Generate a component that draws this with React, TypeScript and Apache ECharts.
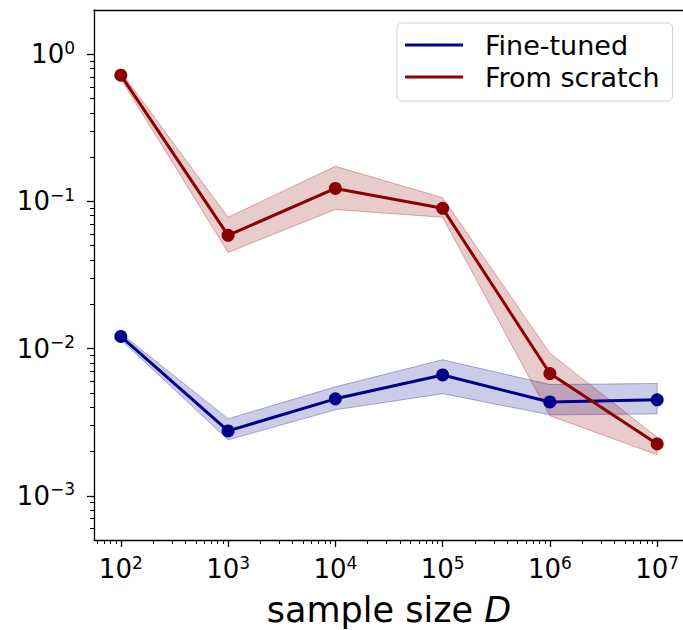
import React, { useEffect, useRef } from "react";
import * as echarts from "echarts";

// Sample sizes D (x) and test error statistics per training regime
const sampleSizes = [1e2, 1e3, 1e4, 1e5, 1e6, 1e7];

const fineTunedMean = [0.0121, 0.00276, 0.00456, 0.00662, 0.00434, 0.00449];
const fineTunedUpper = [0.0127, 0.00334, 0.0055, 0.0084, 0.0057, 0.0058];
const fineTunedLower = [0.0115, 0.0024, 0.00384, 0.00494, 0.00355, 0.0036];

const scratchMean = [0.72, 0.0588, 0.1225, 0.0897, 0.00677, 0.00225];
const scratchUpper = [0.76, 0.078, 0.173, 0.106, 0.0093, 0.0025];
const scratchLower = [0.68, 0.045, 0.088, 0.078, 0.0035, 0.0019];

// Axis ticks (decades and in-between minor ticks)
const xMajorTicks = [1e2, 1e3, 1e4, 1e5, 1e6, 1e7];
const xMinorTicks = [
  60, 70, 80, 90,
  200, 300, 400, 500, 600, 700, 800, 900,
  2e3, 3e3, 4e3, 5e3, 6e3, 7e3, 8e3, 9e3,
  2e4, 3e4, 4e4, 5e4, 6e4, 7e4, 8e4, 9e4,
  2e5, 3e5, 4e5, 5e5, 6e5, 7e5, 8e5, 9e5,
  2e6, 3e6, 4e6, 5e6, 6e6, 7e6, 8e6, 9e6,
];
const yMajorTicks = [1e-3, 1e-2, 1e-1, 1];
const yMinorTicks = [
  6e-4, 7e-4, 8e-4, 9e-4,
  2e-3, 3e-3, 4e-3, 5e-3, 6e-3, 7e-3, 8e-3, 9e-3,
  2e-2, 3e-2, 4e-2, 5e-2, 6e-2, 7e-2, 8e-2, 9e-2,
  0.2, 0.3, 0.4, 0.5, 0.6, 0.7, 0.8, 0.9,
];

const X_MIN = Math.pow(10, 1.75);
const X_MAX = Math.pow(10, 7.25);
const Y_MIN = Math.pow(10, -3.3);
const Y_MAX = Math.pow(10, 0.3);

const BLUE = "#00008b";
const RED = "#8b0000";
const FONT = "DejaVu Sans";

const powLabel = (v: number) => {
  const e = Math.round(Math.log10(v));
  const exp = e < 0 ? "\u2212" + Math.abs(e) : String(e);
  return `{b|10}{s|${exp}}`;
};

const powRich = {
  b: { fontSize: 26, lineHeight: 30, fontFamily: FONT, color: "#000" },
  s: { fontSize: 17, lineHeight: 17, fontFamily: FONT, color: "#000", verticalAlign: "top" },
};

const axisColor = "#000";

function bandSeries(upper: number[], lower: number[], rgb: string) {
  return {
    type: "custom",
    xAxisIndex: 0,
    yAxisIndex: 0,
    silent: true,
    z: 1,
    data: [[sampleSizes[0], upper[0]]],
    renderItem: (params: any, api: any) => {
      if (params.dataIndex !== 0) return null;
      const top = sampleSizes.map((x, i) => api.coord([x, upper[i]]));
      const bottom = sampleSizes.map((x, i) => api.coord([x, lower[i]])).reverse();
      return {
        type: "polygon",
        shape: { points: top.concat(bottom) },
        style: {
          fill: `rgba(${rgb},0.2)`,
          stroke: `rgba(${rgb},0.3)`,
          lineWidth: 1,
        },
      };
    },
  };
}

function lineSeries(name: string, mean: number[], color: string) {
  return {
    name,
    type: "line",
    xAxisIndex: 0,
    yAxisIndex: 0,
    z: 3,
    data: sampleSizes.map((x, i) => [x, mean[i]]),
    symbol: "circle",
    symbolSize: 13,
    showSymbol: true,
    lineStyle: { color, width: 3 },
    itemStyle: { color },
    emphasis: { disabled: true },
  };
}

export default function App() {
  const ref = useRef<HTMLDivElement>(null);

  useEffect(() => {
    if (!ref.current) return;
    const chart = echarts.init(ref.current, null, { renderer: "svg" });
    chart.setOption({
      animation: false,
      backgroundColor: "#fff",
      textStyle: { fontFamily: FONT },
      grid: {
        left: 94,
        top: 10,
        width: 590,
        height: 530,
        containLabel: false,
        outerBoundsMode: "none",
      },
      legend: {
        orient: "vertical",
        left: 397,
        top: 23,
        padding: [7, 13, 9, 8],
        itemWidth: 58,
        itemHeight: 3,
        itemGap: 2,
        backgroundColor: "rgba(255,255,255,0.8)",
        borderColor: "#d0d0d0",
        borderWidth: 1,
        borderRadius: 5,
        selectedMode: false,
        textStyle: {
          fontFamily: FONT,
          fontSize: 27,
          lineHeight: 30,
          color: "#000",
          padding: [0, 0, 0, 17],
        },
        data: [
          { name: "Fine-tuned", icon: "rect", itemStyle: { color: BLUE } },
          { name: "From scratch", icon: "rect", itemStyle: { color: RED } },
        ],
      },
      xAxis: [
        {
          type: "log",
          min: X_MIN,
          max: X_MAX,
          position: "bottom",
          axisLine: { show: true, onZero: false, lineStyle: { color: axisColor, width: 1.3 } },
          axisTick: {
            show: true,
            length: 7,
            customValues: xMajorTicks,
            lineStyle: { color: axisColor, width: 1.3 },
          },
          axisLabel: {
            customValues: xMajorTicks,
            formatter: powLabel,
            rich: powRich,
            margin: 14,
          },
          splitLine: { show: false },
          minorTick: { show: false },
          name: "{n|sample size }{i|D}",
          nameLocation: "middle",
          nameGap: 52,
          nameTextStyle: {
            rich: {
              n: { fontSize: 35, fontFamily: FONT, color: "#000" },
              i: { fontSize: 35, fontFamily: FONT, fontStyle: "italic", color: "#000" },
            },
          },
        },
        {
          type: "log",
          min: X_MIN,
          max: X_MAX,
          position: "bottom",
          axisLine: { show: false, onZero: false },
          axisTick: {
            show: true,
            length: 4,
            customValues: xMinorTicks,
            lineStyle: { color: axisColor, width: 1 },
          },
          axisLabel: { show: false },
          splitLine: { show: false },
        },
        {
          type: "log",
          min: X_MIN,
          max: X_MAX,
          position: "top",
          axisLine: { show: true, onZero: false, lineStyle: { color: axisColor, width: 1.3 } },
          axisTick: { show: false },
          axisLabel: { show: false },
          splitLine: { show: false },
        },
      ],
      yAxis: [
        {
          type: "log",
          min: Y_MIN,
          max: Y_MAX,
          position: "left",
          axisLine: { show: true, onZero: false, lineStyle: { color: axisColor, width: 1.3 } },
          axisTick: {
            show: true,
            length: 7,
            customValues: yMajorTicks,
            lineStyle: { color: axisColor, width: 1.3 },
          },
          axisLabel: {
            customValues: yMajorTicks,
            formatter: powLabel,
            rich: powRich,
            margin: 19,
          },
          splitLine: { show: false },
        },
        {
          type: "log",
          min: Y_MIN,
          max: Y_MAX,
          position: "left",
          axisLine: { show: false, onZero: false },
          axisTick: {
            show: true,
            length: 4,
            customValues: yMinorTicks,
            lineStyle: { color: axisColor, width: 1 },
          },
          axisLabel: { show: false },
          splitLine: { show: false },
        },
      ],
      series: [
        bandSeries(fineTunedUpper, fineTunedLower, "0,0,139"),
        bandSeries(scratchUpper, scratchLower, "139,0,0"),
        lineSeries("Fine-tuned", fineTunedMean, BLUE),
        lineSeries("From scratch", scratchMean, RED),
      ],
    });
    return () => chart.dispose();
  }, []);

  return (
    <div
      ref={ref}
      style={{ position: "absolute", left: 0, top: 0, width: 683, height: 630 }}
    />
  );
}
